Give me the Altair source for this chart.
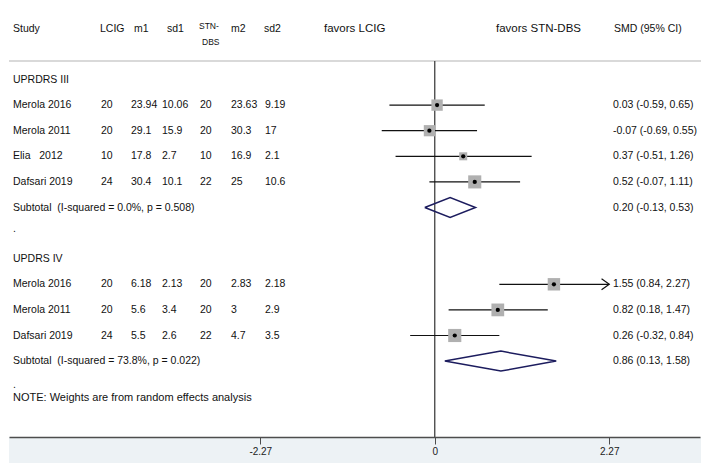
import altair as alt
import pandas as pd

# ---------------- data ----------------
groups = ["UPRDRS III", "UPDRS IV"]
studies = ["Merola 2016", "Merola 2011", "Elia\u00a0\u00a0 2012", "Dafsari 2019",
           "Merola 2016", "Merola 2011", "Dafsari 2019"]
study_group = [0, 0, 0, 0, 1, 1, 1]
n1 = [20, 20, 10, 24, 20, 20, 24]
m1 = [23.94, 29.1, 17.8, 30.4, 6.18, 5.6, 5.5]
sd1 = [10.06, 15.9, 2.7, 10.1, 2.13, 3.4, 2.6]
n2 = [20, 20, 10, 22, 20, 20, 22]
m2 = [23.63, 30.3, 16.9, 25, 2.83, 3, 4.7]
sd2 = [9.19, 17, 2.1, 10.6, 2.18, 2.9, 3.5]
smd = [0.03, -0.07, 0.37, 0.52, 1.55, 0.82, 0.26]
ci_lo = [-0.59, -0.69, -0.51, -0.07, 0.84, 0.18, -0.32]
ci_hi = [0.65, 0.55, 1.26, 1.11, 2.27, 1.47, 0.84]
weights = [26.3, 25.6, 13.1, 35.0, 31.6, 33.2, 35.2]   # % weight (box area)

sub_est = [0.20, 0.86]
sub_lo = [-0.13, 0.13]
sub_hi = [0.53, 1.58]
sub_i2 = ["0.0%", "73.8%"]
sub_p = ["0.508", "0.022"]

axis_ticks = [-2.27, 0, 2.27]
axis_limit = 2.27
header_cols = ["Study", "LCIG", "m1", "sd1", "m2", "sd2"]
favors = ["favors LCIG", "favors STN-DBS"]
note = "NOTE: Weights are from random effects analysis"

# ---------------- layout constants ----------------
W, H = 693, 455
FONT = "Liberation Sans"
FS = 10.5
TXT = "#111111"
PX_PER_ROW = 25.6
ROW0_Y = 71.5
PX_PER_UNIT = 175 / 2.27
ZERO_X = 427
CI_X = 604

xs = alt.Scale(domain=[-ZERO_X / PX_PER_UNIT, (W - ZERO_X) / PX_PER_UNIT], nice=False, zero=False)
ys = alt.Scale(domain=[-ROW0_Y / PX_PER_ROW, (H - ROW0_Y) / PX_PER_ROW], reverse=True, nice=False, zero=False)

# ---------------- tables ----------------
row_k = []
sub_k = []
grp_k = []
k = 0
for g in range(len(groups)):
    grp_k.append(k)
    k += 1
    for i, sg in enumerate(study_group):
        if sg == g:
            row_k.append(k)
            k += 1
    sub_k.append(k)
    k += 2

def fmt(v):
    return str(v)

df = pd.DataFrame({
    "study": studies, "k": row_k,
    "n1": [fmt(v) for v in n1], "m1": [fmt(v) for v in m1], "sd1": [fmt(v) for v in sd1],
    "n2": [fmt(v) for v in n2], "m2": [fmt(v) for v in m2], "sd2": [fmt(v) for v in sd2],
    "smd": smd, "lo": ci_lo, "hi": ci_hi, "w": weights,
    "ci": [f"{e:.2f} ({l:.2f}, {h:.2f})" for e, l, h in zip(smd, ci_lo, ci_hi)],
})
df_arrow = df[df["hi"] >= axis_limit]

df_sub = pd.DataFrame({
    "k": sub_k,
    "label": [f"Subtotal\u00a0 (I-squared = {i2}, p = {p})" for i2, p in zip(sub_i2, sub_p)],
    "ci": [f"{e:.2f} ({l:.2f}, {h:.2f})" for e, l, h in zip(sub_est, sub_lo, sub_hi)],
})
df_grp = pd.DataFrame({"k": grp_k, "label": groups})

HALF = 10 / PX_PER_ROW
dia = []
for g in range(len(sub_est)):
    pts = [(sub_lo[g], sub_k[g]), (sub_est[g], sub_k[g] - HALF), (sub_hi[g], sub_k[g]),
           (sub_est[g], sub_k[g] + HALF), (sub_lo[g], sub_k[g])]
    for o, (xv, kv) in enumerate(pts):
        dia.append({"g": g, "o": o, "x": xv, "k": kv})
df_dia = pd.DataFrame(dia)

one = pd.DataFrame({"a": [0]})
df_zero = pd.DataFrame({"x": [0.0]})

layers = []

# background band under the axis
layers.append(alt.Chart(one).mark_rect(color="#edf2f5").encode(
    x=alt.value(0), x2=alt.value(W), y=alt.value(429), y2=alt.value(H)))
# header separator
layers.append(alt.Chart(one).mark_rule(color="#d9d9d9", strokeWidth=2).encode(
    x=alt.value(0), x2=alt.value(W), y=alt.value(53)))

# zero line with x axis
axis = alt.Axis(values=axis_ticks, offset=-26, tickSize=7, labelPadding=2, zindex=1,
                domainColor="#4d4d4d", domainWidth=1.3, tickColor="#4d4d4d", tickWidth=1,
                labelFont=FONT, labelFontSize=10, labelColor="#222222", grid=False, title=None,
                labelExpr="datum.value < 0 ? '-' + format(-datum.value, '.2f') : (datum.value == 0 ? '0' : format(datum.value, '.2f'))")
layers.append(alt.Chart(df_zero).mark_rule(color="#333333", strokeWidth=1.2).encode(
    x=alt.X("x:Q", scale=xs, axis=axis), y=alt.value(53), y2=alt.value(429)))

# CI lines
layers.append(alt.Chart(df).mark_rule(color="#111111", strokeWidth=1.2).encode(
    x=alt.X("lo:Q", scale=xs), x2="hi:Q", y=alt.Y("k:Q", scale=ys, axis=None)))
# weight boxes
layers.append(alt.Chart(df).mark_square(color="#b0b0b0", opacity=1).encode(
    x=alt.X("smd:Q", scale=xs), y=alt.Y("k:Q", scale=ys),
    size=alt.Size("w:Q", scale=alt.Scale(domain=[0, 100], range=[0, 490]), legend=None)))
# point estimates
layers.append(alt.Chart(df).mark_circle(color="#000000", size=18, opacity=1).encode(
    x=alt.X("smd:Q", scale=xs), y=alt.Y("k:Q", scale=ys)))
# arrow for truncated CI
layers.append(alt.Chart(df_arrow).mark_point(shape="M -1.4 -1 L 0 0 L -1.4 1", filled=False,
                                             color="#111111", strokeWidth=1.2, size=121, opacity=1).encode(
    x=alt.X("hi:Q", scale=xs), y=alt.Y("k:Q", scale=ys)))
# subtotal diamonds
layers.append(alt.Chart(df_dia).mark_line(color="#1c1c5e", strokeWidth=1.5).encode(
    x=alt.X("x:Q", scale=xs), y=alt.Y("k:Q", scale=ys), detail="g:N", order="o:Q"))

# ---------------- text ----------------
def txt(data, field, x, size=FS, align="left"):
    return alt.Chart(data).mark_text(align=align, baseline="middle", font=FONT, fontSize=size,
                                     color=TXT).encode(
        x=alt.value(x), y=alt.Y("k:Q", scale=ys), text=f"{field}:N")

for field, x in [("study", 4), ("n1", 92), ("m1", 122), ("sd1", 153),
                 ("n2", 191), ("m2", 222), ("sd2", 256)]:
    layers.append(txt(df, field, x))
layers.append(txt(df, "ci", CI_X))
layers.append(txt(df_sub, "label", 4))
layers.append(txt(df_sub, "ci", CI_X))
layers.append(txt(df_grp, "label", 4))

def htxt(s, x, y, size=FS, baseline="middle"):
    return alt.Chart(one).mark_text(align="left", baseline=baseline, font=FONT, fontSize=size,
                                    color=TXT, text=s).encode(x=alt.value(x), y=alt.value(y))

for s, x in zip(header_cols, [4, 91, 125, 158, 222, 255]):
    layers.append(htxt(s, x, 21))
layers.append(htxt("STN-", 190, 18, size=8.5))
layers.append(htxt("DBS", 193, 34, size=8.5))
layers.append(htxt(favors[0], 315, 21, size=11.5))
layers.append(htxt(favors[1], 487, 21, size=11.5))
layers.append(htxt("SMD (95% CI)", CI_X + 1, 21))
layers.append(htxt(".", 4, 224, baseline="alphabetic"))
layers.append(htxt(".", 4, 380, baseline="alphabetic"))
layers.append(htxt(note, 4, 390, size=11))

chart = alt.layer(*layers).properties(
    width=W, height=H, padding=0,
    autosize=alt.AutoSizeParams(type="fit", contains="padding"),
    background="white",
).configure_view(stroke=None)

chart.save("out.html", embed_options={"renderer": "svg", "actions": False})
